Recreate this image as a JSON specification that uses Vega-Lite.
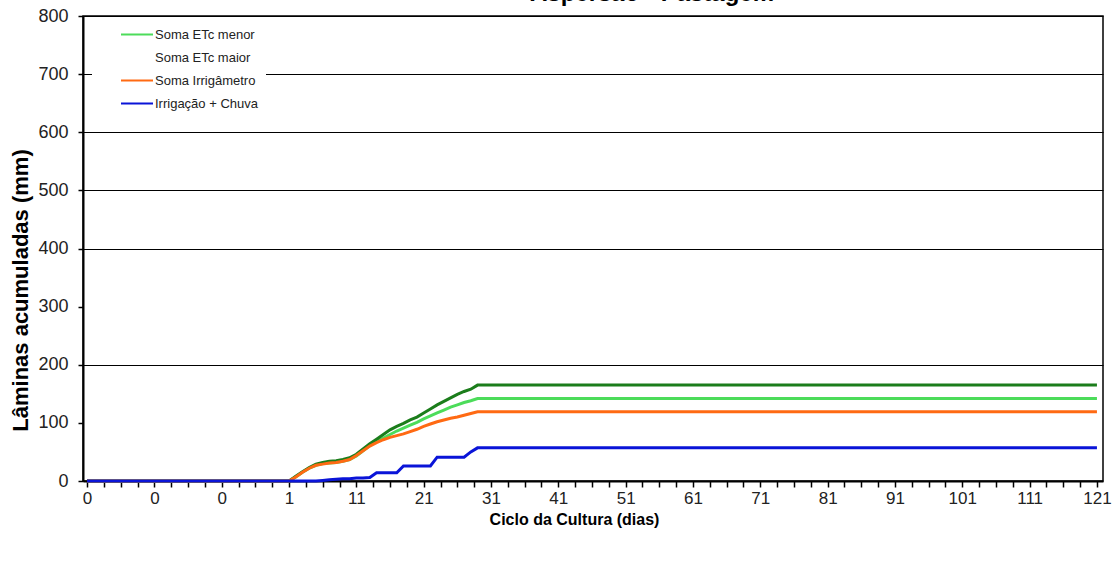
{
  "$schema": "https://vega.github.io/schema/vega-lite/v6.json",
  "autosize": "none",
  "padding": {"left": 83, "top": 16, "right": 12, "bottom": 80},
  "width": 1020,
  "height": 465,
  "background": "white",
  "config": {
    "font": "Liberation Sans",
    "view": {"stroke": "#000", "strokeWidth": 1.5}
  },
  "title": {
    "text": "Aspersão - Pastagem",
    "fontSize": 24,
    "fontWeight": "bold",
    "font": "Liberation Sans",
    "color": "#000",
    "anchor": "middle",
    "dx": 59,
    "offset": 1
  },
  "data": {
    "values": [
      {"i": 0, "serie": "Soma ETc menor", "v": 0},
      {"i": 29, "serie": "Soma ETc menor", "v": 0},
      {"i": 30, "serie": "Soma ETc menor", "v": 0},
      {"i": 31, "serie": "Soma ETc menor", "v": 7},
      {"i": 32, "serie": "Soma ETc menor", "v": 15},
      {"i": 33, "serie": "Soma ETc menor", "v": 22},
      {"i": 34, "serie": "Soma ETc menor", "v": 27},
      {"i": 35, "serie": "Soma ETc menor", "v": 30},
      {"i": 36, "serie": "Soma ETc menor", "v": 31},
      {"i": 37, "serie": "Soma ETc menor", "v": 32},
      {"i": 38, "serie": "Soma ETc menor", "v": 34},
      {"i": 39, "serie": "Soma ETc menor", "v": 37},
      {"i": 40, "serie": "Soma ETc menor", "v": 43},
      {"i": 41, "serie": "Soma ETc menor", "v": 52},
      {"i": 42, "serie": "Soma ETc menor", "v": 61},
      {"i": 43, "serie": "Soma ETc menor", "v": 68},
      {"i": 44, "serie": "Soma ETc menor", "v": 74},
      {"i": 45, "serie": "Soma ETc menor", "v": 80},
      {"i": 46, "serie": "Soma ETc menor", "v": 86},
      {"i": 47, "serie": "Soma ETc menor", "v": 91},
      {"i": 48, "serie": "Soma ETc menor", "v": 96},
      {"i": 49, "serie": "Soma ETc menor", "v": 101},
      {"i": 50, "serie": "Soma ETc menor", "v": 107},
      {"i": 51, "serie": "Soma ETc menor", "v": 112},
      {"i": 52, "serie": "Soma ETc menor", "v": 117},
      {"i": 53, "serie": "Soma ETc menor", "v": 122},
      {"i": 54, "serie": "Soma ETc menor", "v": 127},
      {"i": 55, "serie": "Soma ETc menor", "v": 131},
      {"i": 56, "serie": "Soma ETc menor", "v": 135},
      {"i": 57, "serie": "Soma ETc menor", "v": 138},
      {"i": 58, "serie": "Soma ETc menor", "v": 142},
      {"i": 150, "serie": "Soma ETc menor", "v": 142},
      {"i": 0, "serie": "Soma ETc maior", "v": 0},
      {"i": 29, "serie": "Soma ETc maior", "v": 0},
      {"i": 30, "serie": "Soma ETc maior", "v": 0},
      {"i": 31, "serie": "Soma ETc maior", "v": 8},
      {"i": 32, "serie": "Soma ETc maior", "v": 16},
      {"i": 33, "serie": "Soma ETc maior", "v": 23},
      {"i": 34, "serie": "Soma ETc maior", "v": 29},
      {"i": 35, "serie": "Soma ETc maior", "v": 32},
      {"i": 36, "serie": "Soma ETc maior", "v": 34},
      {"i": 37, "serie": "Soma ETc maior", "v": 35},
      {"i": 38, "serie": "Soma ETc maior", "v": 37},
      {"i": 39, "serie": "Soma ETc maior", "v": 40},
      {"i": 40, "serie": "Soma ETc maior", "v": 46},
      {"i": 41, "serie": "Soma ETc maior", "v": 55},
      {"i": 42, "serie": "Soma ETc maior", "v": 64},
      {"i": 43, "serie": "Soma ETc maior", "v": 72},
      {"i": 44, "serie": "Soma ETc maior", "v": 80},
      {"i": 45, "serie": "Soma ETc maior", "v": 88},
      {"i": 46, "serie": "Soma ETc maior", "v": 94},
      {"i": 47, "serie": "Soma ETc maior", "v": 99},
      {"i": 48, "serie": "Soma ETc maior", "v": 105},
      {"i": 49, "serie": "Soma ETc maior", "v": 110},
      {"i": 50, "serie": "Soma ETc maior", "v": 117},
      {"i": 51, "serie": "Soma ETc maior", "v": 124},
      {"i": 52, "serie": "Soma ETc maior", "v": 131},
      {"i": 53, "serie": "Soma ETc maior", "v": 137},
      {"i": 54, "serie": "Soma ETc maior", "v": 143},
      {"i": 55, "serie": "Soma ETc maior", "v": 149},
      {"i": 56, "serie": "Soma ETc maior", "v": 154},
      {"i": 57, "serie": "Soma ETc maior", "v": 158},
      {"i": 58, "serie": "Soma ETc maior", "v": 165},
      {"i": 150, "serie": "Soma ETc maior", "v": 165},
      {"i": 0, "serie": "Soma Irrigâmetro", "v": 0},
      {"i": 29, "serie": "Soma Irrigâmetro", "v": 0},
      {"i": 30, "serie": "Soma Irrigâmetro", "v": 0},
      {"i": 31, "serie": "Soma Irrigâmetro", "v": 7},
      {"i": 32, "serie": "Soma Irrigâmetro", "v": 15},
      {"i": 33, "serie": "Soma Irrigâmetro", "v": 22},
      {"i": 34, "serie": "Soma Irrigâmetro", "v": 27},
      {"i": 35, "serie": "Soma Irrigâmetro", "v": 29},
      {"i": 36, "serie": "Soma Irrigâmetro", "v": 31},
      {"i": 37, "serie": "Soma Irrigâmetro", "v": 32},
      {"i": 38, "serie": "Soma Irrigâmetro", "v": 34},
      {"i": 39, "serie": "Soma Irrigâmetro", "v": 37},
      {"i": 40, "serie": "Soma Irrigâmetro", "v": 44},
      {"i": 41, "serie": "Soma Irrigâmetro", "v": 52},
      {"i": 42, "serie": "Soma Irrigâmetro", "v": 60},
      {"i": 43, "serie": "Soma Irrigâmetro", "v": 66},
      {"i": 44, "serie": "Soma Irrigâmetro", "v": 71},
      {"i": 45, "serie": "Soma Irrigâmetro", "v": 75},
      {"i": 46, "serie": "Soma Irrigâmetro", "v": 78},
      {"i": 47, "serie": "Soma Irrigâmetro", "v": 81},
      {"i": 48, "serie": "Soma Irrigâmetro", "v": 85},
      {"i": 49, "serie": "Soma Irrigâmetro", "v": 89},
      {"i": 50, "serie": "Soma Irrigâmetro", "v": 94},
      {"i": 51, "serie": "Soma Irrigâmetro", "v": 98},
      {"i": 52, "serie": "Soma Irrigâmetro", "v": 102},
      {"i": 53, "serie": "Soma Irrigâmetro", "v": 105},
      {"i": 54, "serie": "Soma Irrigâmetro", "v": 108},
      {"i": 55, "serie": "Soma Irrigâmetro", "v": 110},
      {"i": 56, "serie": "Soma Irrigâmetro", "v": 113},
      {"i": 57, "serie": "Soma Irrigâmetro", "v": 116},
      {"i": 58, "serie": "Soma Irrigâmetro", "v": 119},
      {"i": 150, "serie": "Soma Irrigâmetro", "v": 119},
      {"i": 0, "serie": "Irrigação + Chuva", "v": 0},
      {"i": 29, "serie": "Irrigação + Chuva", "v": 0},
      {"i": 30, "serie": "Irrigação + Chuva", "v": 0},
      {"i": 31, "serie": "Irrigação + Chuva", "v": 0},
      {"i": 32, "serie": "Irrigação + Chuva", "v": 0},
      {"i": 33, "serie": "Irrigação + Chuva", "v": 0},
      {"i": 34, "serie": "Irrigação + Chuva", "v": 0},
      {"i": 35, "serie": "Irrigação + Chuva", "v": 1},
      {"i": 36, "serie": "Irrigação + Chuva", "v": 2},
      {"i": 37, "serie": "Irrigação + Chuva", "v": 3},
      {"i": 38, "serie": "Irrigação + Chuva", "v": 4},
      {"i": 39, "serie": "Irrigação + Chuva", "v": 4},
      {"i": 40, "serie": "Irrigação + Chuva", "v": 5},
      {"i": 41, "serie": "Irrigação + Chuva", "v": 5},
      {"i": 42, "serie": "Irrigação + Chuva", "v": 6},
      {"i": 43, "serie": "Irrigação + Chuva", "v": 14},
      {"i": 44, "serie": "Irrigação + Chuva", "v": 14},
      {"i": 45, "serie": "Irrigação + Chuva", "v": 14},
      {"i": 46, "serie": "Irrigação + Chuva", "v": 14},
      {"i": 47, "serie": "Irrigação + Chuva", "v": 26},
      {"i": 48, "serie": "Irrigação + Chuva", "v": 26},
      {"i": 49, "serie": "Irrigação + Chuva", "v": 26},
      {"i": 50, "serie": "Irrigação + Chuva", "v": 26},
      {"i": 51, "serie": "Irrigação + Chuva", "v": 26},
      {"i": 52, "serie": "Irrigação + Chuva", "v": 41},
      {"i": 53, "serie": "Irrigação + Chuva", "v": 41},
      {"i": 54, "serie": "Irrigação + Chuva", "v": 41},
      {"i": 55, "serie": "Irrigação + Chuva", "v": 41},
      {"i": 56, "serie": "Irrigação + Chuva", "v": 41},
      {"i": 57, "serie": "Irrigação + Chuva", "v": 50},
      {"i": 58, "serie": "Irrigação + Chuva", "v": 57},
      {"i": 150, "serie": "Irrigação + Chuva", "v": 57}
    ]
  },
  "mark": {"type": "line", "strokeWidth": 3, "interpolate": "linear"},
  "encoding": {
    "x": {
      "field": "i",
      "type": "quantitative",
      "scale": {"domain": [-0.6, 150.9], "nice": false, "zero": false},
      "axis": {
        "title": "Ciclo da Cultura (dias)",
        "titleFontSize": 16,
        "titleFontWeight": "bold",
        "titleColor": "#000",
        "titleX": 491,
        "titleY": 30,
        "titleBaseline": "top",
        "values": [0, 2.5, 5, 7.5, 10, 12.5, 15, 17.5, 20, 22.5, 25, 27.5, 30, 32.5, 35, 37.5, 40, 42.5, 45, 47.5, 50, 52.5, 55, 57.5, 60, 62.5, 65, 67.5, 70, 72.5, 75, 77.5, 80, 82.5, 85, 87.5, 90, 92.5, 95, 97.5, 100, 102.5, 105, 107.5, 110, 112.5, 115, 117.5, 120, 122.5, 125, 127.5, 130, 132.5, 135, 137.5, 140, 142.5, 145, 147.5, 150],
        "labelExpr": "datum.value % 10 == 0 ? (datum.value < 30 ? '0' : toString(datum.value - 29)) : ''",
        "labelFontSize": 17,
        "labelColor": "#222",
        "labelPadding": 3,
        "labelOverlap": false,
        "labelFlush": false,
        "tickSize": 6,
        "tickColor": "#000",
        "tickWidth": 1.5,
        "domainColor": "#000",
        "domainWidth": 2,
        "grid": false
      }
    },
    "y": {
      "field": "v",
      "type": "quantitative",
      "scale": {"domain": [0, 800], "nice": false},
      "axis": {
        "title": "Lâminas acumuladas (mm)",
        "titleFontSize": 22,
        "titleFontWeight": "bold",
        "titleColor": "#000",
        "titleX": -51,
        "titleY": 274,
        "values": [0, 100, 200, 300, 400, 500, 600, 700, 800],
        "labelFontSize": 18,
        "labelColor": "#222",
        "labelPadding": 10,
        "tickSize": 5,
        "tickColor": "#000",
        "tickWidth": 1.5,
        "domainColor": "#000",
        "domainWidth": 2,
        "grid": true,
        "gridColor": "#000",
        "gridWidth": 1.2,
        "gridOpacity": {"condition": {"test": "datum.value == 0 || datum.value == 100 || datum.value == 300", "value": 0}, "value": 1}
      }
    },
    "color": {
      "field": "serie",
      "type": "nominal",
      "scale": {
        "domain": ["Soma ETc menor", "Soma ETc maior", "Soma Irrigâmetro", "Irrigação + Chuva"],
        "range": ["#4cdc5a", "#1b7d1b", "#ff6a13", "#0a14d8"]
      },
      "legend": {
        "title": null,
        "orient": "none",
        "legendX": 9,
        "legendY": 4,
        "padding": 8,
        "fillColor": "white",
        "strokeColor": null,
        "symbolType": "stroke",
        "symbolSize": 1024,
        "symbolStrokeWidth": 2,
        "symbolOffset": 20,
        "clipHeight": 13,
        "rowPadding": 9,
        "labelFontSize": 13,
        "labelColor": "#222",
        "labelOffset": 1,
        "encode": {
          "symbols": {"update": {"opacity": {"signal": "datum.label === 'Soma ETc maior' ? 0 : 1"}}}
        }
      }
    }
  }
}
